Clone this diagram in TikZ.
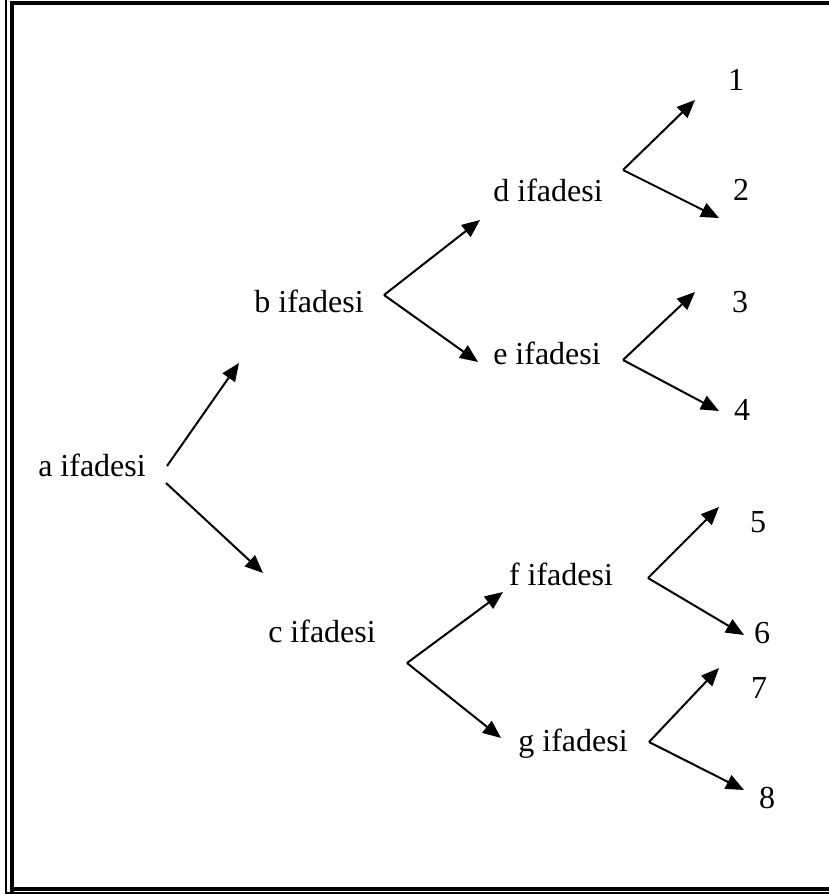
\documentclass[tikz,border=0pt]{standalone}
\usepackage{fontspec}
\setmainfont{Liberation Serif}
\usetikzlibrary{arrows.meta}
\tikzset{
  lbl/.style={inner sep=0pt, anchor=base, font=\fontsize{16}{18}\selectfont},
  arr/.style={line width=1pt, -{Triangle[length=9pt,width=7.5pt]}},
  thinframe/.style={line width=1pt},
  thickframe/.style={line width=2pt}
}
\begin{document}
\begin{tikzpicture}[x=0.5pt,y=-0.5pt]
\useasboundingbox (0,0) rectangle (829,894);
\begin{scope}
\clip (0,0) rectangle (829,894);
\draw[thinframe] (5.8,-20) -- (5.8,892.9) -- (860,892.9);
\draw[thickframe] (12,900) -- (12,3) -- (860,3);
\draw[thickframe] (12,889) -- (860,889);
\end{scope}

% text nodes
\node[lbl] (a) at (92,476) {a ifadesi};
\node[lbl] (b) at (309,312) {b ifadesi};
\node[lbl] (c) at (322,642) {c ifadesi};
\node[lbl] (d) at (548,201) {d ifadesi};
\node[lbl] (e) at (547,364) {e ifadesi};
\node[lbl] (f) at (561,585) {f ifadesi};
\node[lbl] (g) at (573,751) {g ifadesi};
\node[lbl] (n1) at (736,90) {1};
\node[lbl] (n2) at (741,200) {2};
\node[lbl] (n3) at (740,312) {3};
\node[lbl] (n4) at (742,420) {4};
\node[lbl] (n5) at (758,532) {5};
\node[lbl] (n6) at (762,643) {6};
\node[lbl] (n7) at (759,698) {7};
\node[lbl] (n8) at (767,808) {8};

% connector end points
\coordinate (aup) at (167,466);
\coordinate (adn) at (166,483);
\coordinate (bt) at (239,363);
\coordinate (ct) at (263,573);
\coordinate (bv) at (384,295);
\coordinate (dt) at (480,220);
\coordinate (et) at (478,362);
\coordinate (cv) at (407,663);
\coordinate (ft) at (503,592);
\coordinate (gt) at (501,738);
\coordinate (dv) at (623,170);
\coordinate (t1) at (695,100);
\coordinate (t2) at (719,218);
\coordinate (ev) at (623,360);
\coordinate (t3) at (695,292);
\coordinate (t4) at (719,411);
\coordinate (fv) at (648,578);
\coordinate (t5) at (719,507);
\coordinate (t6) at (744,635);
\coordinate (gv) at (649,742);
\coordinate (t7) at (719,668);
\coordinate (t8) at (744,790);

\draw[arr] (aup) -- (bt);
\draw[arr] (adn) -- (ct);
\draw[arr] (bv) -- (dt);
\draw[arr] (bv) -- (et);
\draw[arr] (cv) -- (ft);
\draw[arr] (cv) -- (gt);
\draw[arr] (dv) -- (t1);
\draw[arr] (dv) -- (t2);
\draw[arr] (ev) -- (t3);
\draw[arr] (ev) -- (t4);
\draw[arr] (fv) -- (t5);
\draw[arr] (fv) -- (t6);
\draw[arr] (gv) -- (t7);
\draw[arr] (gv) -- (t8);
\end{tikzpicture}
\end{document}
